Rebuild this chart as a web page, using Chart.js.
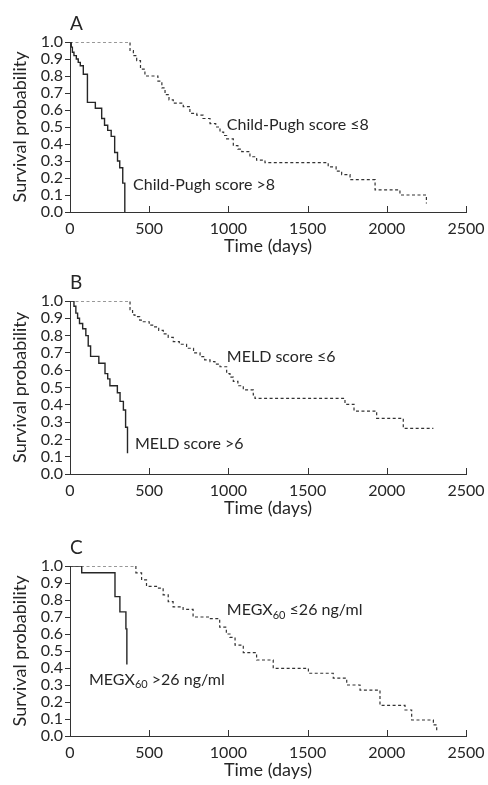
<!DOCTYPE html>
<html>
<head>
<meta charset="utf-8">
<script src="https://cdn.jsdelivr.net/npm/chart.js@4.4.1/dist/chart.umd.min.js"></script>
<style>
  html, body { margin: 0; padding: 0; background: #fff; width: 488px; height: 785px; overflow: hidden; }
  canvas { position: absolute; left: 0; }
</style>
</head>
<body>
<canvas id="cA" width="488" height="262" style="top:0px"></canvas>
<canvas id="cB" width="488" height="265" style="top:259px"></canvas>
<canvas id="cC" width="488" height="262" style="top:524px"></canvas>
<script>
// ---- Data ----
const xTicks = [0, 500, 1000, 1500, 2000, 2500];
const yTicks = [0.0, 0.1, 0.2, 0.3, 0.4, 0.5, 0.6, 0.7, 0.8, 0.9, 1.0];
const xTitle = 'Time (days)';
const yTitle = 'Survival probability';

// Panel A: Child-Pugh score
const aLowTimes = [0, 379, 400, 421, 445, 473, 555, 580, 600, 625, 652, 715, 757, 800, 840, 884, 920, 947, 970, 989, 1031, 1060, 1084, 1136, 1178, 1231, 1630, 1680, 1715, 1768, 1926, 2083, 2250];
const aLowSurv  = [1, 0.95, 0.92, 0.89, 0.84, 0.80, 0.77, 0.73, 0.69, 0.66, 0.64, 0.62, 0.58, 0.57, 0.55, 0.52, 0.50, 0.47, 0.45, 0.43, 0.39, 0.37, 0.355, 0.325, 0.305, 0.29, 0.265, 0.24, 0.22, 0.19, 0.13, 0.10, 0.05];
const aHighTimes = [0, 8, 15, 25, 40, 52, 65, 84, 110, 160, 200, 218, 238, 260, 282, 300, 314, 333, 346];
const aHighSurv  = [1, 0.97, 0.94, 0.92, 0.90, 0.88, 0.86, 0.81, 0.645, 0.61, 0.55, 0.51, 0.48, 0.445, 0.35, 0.30, 0.26, 0.17, 0.0];

// Panel B: MELD score
const bLowTimes = [0, 379, 395, 410, 440, 463, 500, 526, 560, 589, 620, 652, 690, 736, 780, 821, 850, 884, 915, 947, 989, 1010, 1031, 1060, 1094, 1157, 1168, 1736, 1793, 1936, 2104, 2294];
const bLowSurv  = [1, 0.95, 0.92, 0.91, 0.89, 0.88, 0.86, 0.85, 0.83, 0.81, 0.79, 0.765, 0.75, 0.727, 0.70, 0.678, 0.66, 0.65, 0.635, 0.62, 0.58, 0.56, 0.535, 0.51, 0.486, 0.457, 0.437, 0.403, 0.364, 0.322, 0.264, 0.264];
const bHighTimes = [0, 25, 37, 48, 60, 80, 100, 115, 130, 182, 221, 238, 252, 299, 316, 337, 351, 363];
const bHighSurv  = [1, 0.97, 0.93, 0.90, 0.87, 0.84, 0.80, 0.74, 0.68, 0.64, 0.58, 0.55, 0.51, 0.47, 0.42, 0.37, 0.27, 0.12];

// Panel C: MEGX60
const cLowTimes = [0, 416, 452, 483, 546, 588, 620, 651, 714, 777, 882, 945, 987, 1010, 1042, 1094, 1178, 1283, 1505, 1662, 1747, 1831, 1957, 2115, 2157, 2294, 2315];
const cLowSurv  = [1, 0.96, 0.918, 0.88, 0.87, 0.83, 0.79, 0.76, 0.745, 0.70, 0.69, 0.64, 0.60, 0.58, 0.535, 0.49, 0.447, 0.398, 0.369, 0.34, 0.30, 0.27, 0.18, 0.153, 0.094, 0.065, 0.025];
const cHighTimes = [0, 74, 284, 315, 353, 359];
const cHighSurv  = [1, 0.96, 0.82, 0.73, 0.63, 0.42];

// ---- Styling ----
const FONT = 'Lato, "Open Sans", sans-serif';
const INK = '#262626';

function pts(ts, ss) { return ts.map((t, i) => ({ x: t, y: ss[i] })); }

const panelLetter = {
  id: 'panelLetter',
  afterDraw(chart, args, opts) {
    const { ctx, chartArea } = chart;
    ctx.save();
    ctx.font = '19px ' + FONT;
    ctx.fillStyle = INK;
    ctx.textBaseline = 'alphabetic';
    ctx.textAlign = 'left';
    ctx.fillText(opts.text, chartArea.left, chartArea.top - 12);
    ctx.restore();
  }
};

const inwardTicks = {
  id: 'inwardTicks',
  afterDraw(chart) {
    const { ctx, chartArea, scales: { x } } = chart;
    ctx.save();
    ctx.strokeStyle = '#333';
    ctx.lineWidth = 1;
    x.ticks.forEach(t => {
      const px = Math.round(x.getPixelForValue(t.value)) + 0.5;
      ctx.beginPath();
      ctx.moveTo(px, chartArea.bottom);
      ctx.lineTo(px, chartArea.bottom - 6);
      ctx.stroke();
    });
    ctx.restore();
  }
};

const curveLabels = {
  id: 'curveLabels',
  afterDatasetsDraw(chart, args, opts) {
    const { ctx, scales: { x, y } } = chart;
    ctx.save();
    ctx.fillStyle = INK;
    ctx.textBaseline = 'middle';
    ctx.textAlign = 'left';
    (opts.items || []).forEach(it => {
      let px = x.getPixelForValue(it.t);
      const py = y.getPixelForValue(it.s);
      it.parts.forEach(p => {
        if (p.sub) {
          ctx.font = '11px ' + FONT;
          ctx.fillText(p.text, px, py + 5);
        } else {
          ctx.font = '16px ' + FONT;
          ctx.fillText(p.text, px, py);
        }
        px += ctx.measureText(p.text).width;
      });
    });
    ctx.restore();
  }
};

function makeChart(id, letter, lowPts, highPts, labels, plotTopPad) {
  return new Chart(document.getElementById(id), {
    type: 'line',
    data: {
      datasets: [
        { data: lowPts, stepped: true, borderColor: '#333', borderWidth: 1.2, borderDash: [3, 2.5], pointRadius: 0, fill: false },
        { data: highPts, stepped: true, borderColor: INK, borderWidth: 1.4, pointRadius: 0, fill: false }
      ]
    },
    options: {
      responsive: false,
      animation: false,
      devicePixelRatio: 1,
      layout: { padding: { top: plotTopPad, right: 22, left: 0, bottom: 0 } },
      plugins: {
        legend: { display: false },
        tooltip: { enabled: false },
        panelLetter: { text: letter },
        curveLabels: { items: labels }
      },
      scales: {
        x: {
          type: 'linear', min: 0, max: 2500,
          afterBuildTicks: s => { s.ticks = xTicks.map(v => ({ value: v })); },
          afterFit: s => { s.height = 50; },
          ticks: { font: { family: FONT, size: 16 }, color: INK, padding: -1, maxRotation: 0, autoSkip: false, callback: v => String(v) },
          grid: { display: false },
          border: { display: true, color: '#333', width: 1 },
          title: { display: true, text: xTitle, font: { family: FONT, size: 18 }, color: INK, padding: { top: 0, bottom: 5 } }
        },
        y: {
          min: 0, max: 1,
          afterBuildTicks: s => { s.ticks = yTicks.map(v => ({ value: v })); },
          afterFit: s => { s.width = 70; },
          ticks: { font: { family: FONT, size: 16 }, color: INK, padding: 2, autoSkip: false, callback: v => Number(v).toFixed(1) },
          grid: { display: true, drawOnChartArea: false, drawTicks: true, tickLength: 5, color: '#333' },
          border: { display: true, color: '#333', width: 1 },
          title: { display: true, text: yTitle, font: { family: FONT, size: 18 }, color: INK, padding: { top: 9, bottom: 0 } }
        }
      }
    },
    plugins: [panelLetter, inwardTicks, curveLabels]
  });
}

makeChart('cA', 'A', pts(aLowTimes, aLowSurv), pts(aHighTimes, aHighSurv), [
  { t: 990, s: 0.51, parts: [{ text: 'Child-Pugh score \u22648' }] },
  { t: 398, s: 0.16, parts: [{ text: 'Child-Pugh score >8' }] }
], 42);

makeChart('cB', 'B', pts(bLowTimes, bLowSurv), pts(bHighTimes, bHighSurv), [
  { t: 990, s: 0.68, parts: [{ text: 'MELD score \u22646' }] },
  { t: 410, s: 0.175, parts: [{ text: 'MELD score >6' }] }
], 42);

makeChart('cC', 'C', pts(cLowTimes, cLowSurv), pts(cHighTimes, cHighSurv), [
  { t: 990, s: 0.74, parts: [{ text: 'MEGX' }, { text: '60', sub: true }, { text: ' \u226426 ng/ml' }] },
  { t: 120, s: 0.33, parts: [{ text: 'MEGX' }, { text: '60', sub: true }, { text: ' >26 ng/ml' }] }
], 42);
</script>
</body>
</html>
